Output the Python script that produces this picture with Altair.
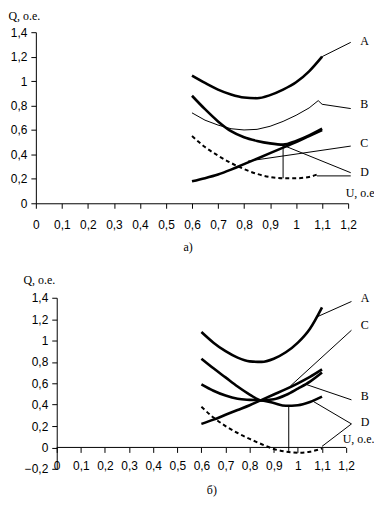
import altair as alt
import pandas as pd

# ---------------- data : panel a) ----------------
U_A = [0.6, 0.65, 0.7, 0.75, 0.8, 0.85, 0.9, 0.95, 1.0, 1.05, 1.1]
A_QA = [1.045, 0.985, 0.93, 0.89, 0.865, 0.86, 0.885, 0.93, 0.99, 1.08, 1.20]
A_QC = [0.18, 0.205, 0.235, 0.275, 0.32, 0.365, 0.41, 0.455, 0.50, 0.55, 0.60]
A_QD = [0.88, 0.77, 0.67, 0.59, 0.54, 0.51, 0.49, 0.48, 0.51, 0.555, 0.61]
U_A_B = [0.6, 0.65, 0.7, 0.75, 0.8, 0.85, 0.9, 0.95, 1.0, 1.05, 1.085, 1.1]
A_QB = [0.74, 0.68, 0.64, 0.61, 0.60, 0.605, 0.63, 0.67, 0.72, 0.78, 0.84, 0.81]
U_A_E = [0.6, 0.65, 0.7, 0.75, 0.8, 0.85, 0.9, 0.95, 1.0, 1.05, 1.08]
A_QE = [0.55, 0.46, 0.39, 0.33, 0.28, 0.24, 0.215, 0.205, 0.205, 0.215, 0.235]
# pointer lines (u, q, u2, q2)
A_PTR_U = [1.1, 1.1, 0.815, 0.944, 1.08, 0.95]
A_PTR_Q = [1.20, 0.81, 0.345, 0.48, 0.224, 0.47]
A_PTR_U2 = [1.21, 1.21, 1.21, 1.21, 1.21, 0.95]
A_PTR_Q2 = [1.317, 0.775, 0.468, 0.25, 0.224, 0.205]
A_LBL = ["A", "B", "C", "D"]
A_LBL_U = [1.247, 1.247, 1.247, 1.247]
A_LBL_Q = [1.328, 0.812, 0.495, 0.258]

# ---------------- data : panel б) ----------------
U_B = [0.6, 0.65, 0.7, 0.75, 0.8, 0.85, 0.9, 0.95, 1.0, 1.05, 1.1]
B_QA = [1.08, 0.98, 0.90, 0.84, 0.805, 0.80, 0.83, 0.89, 0.98, 1.11, 1.31]
B_QB = [0.83, 0.74, 0.655, 0.57, 0.495, 0.44, 0.45, 0.49, 0.55, 0.615, 0.70]
B_QC = [0.22, 0.26, 0.305, 0.35, 0.395, 0.445, 0.495, 0.545, 0.60, 0.66, 0.73]
B_QD = [0.59, 0.53, 0.485, 0.455, 0.445, 0.44, 0.415, 0.39, 0.395, 0.425, 0.475]
B_QE = [0.38, 0.28, 0.20, 0.135, 0.08, 0.03, -0.015, -0.04, -0.05, -0.04, -0.01]
B_PTR_U = [1.078, 0.969, 1.037, 1.064, 1.1, 0.962]
B_PTR_Q = [1.22, 0.575, 0.587, 0.43, 0.01, 0.39]
B_PTR_U2 = [1.222, 1.222, 1.222, 1.222, 1.222, 0.962]
B_PTR_Q2 = [1.365, 1.096, 0.445, 0.22, 0.22, -0.05]
B_LBL = ["A", "C", "B", "D"]
B_LBL_U = [1.261, 1.261, 1.261, 1.261]
B_LBL_Q = [1.397, 1.146, 0.484, 0.236]
# x-axis line of panel б) drawn at Q = 0
B_ZERO_U = [0.0]
B_ZERO_U2 = [1.2]
B_ZERO_Q = [0.0]

X_TICKS = [0, 0.1, 0.2, 0.3, 0.4, 0.5, 0.6, 0.7, 0.8, 0.9, 1.0, 1.1, 1.2]
Y_TICKS_A = [0, 0.2, 0.4, 0.6, 0.8, 1.0, 1.2, 1.4]
Y_TICKS_B = [-0.2, 0, 0.2, 0.4, 0.6, 0.8, 1.0, 1.2, 1.4]

LBL_EXPR = "replace(format(datum.value, '~g'), '.', ',')"
SANS = "Liberation Sans"
SERIF = "Liberation Serif"


def long_df(series):
    rows = []
    for name, (uu, qq) in series.items():
        for a, b in zip(uu, qq):
            rows.append({"curve": name, "u": a, "q": b})
    return pd.DataFrame(rows, columns=["curve", "u", "q"])


def panel(thick, thin, dashed, ptr, lbl, xdom, ydom, yticks, width, height,
          xoffset, yoffset, xdomain_line, xlabpad, utitle, utx, uty, qtx, qty,
          caption, cap_dx, cap_off):
    xaxis = alt.Axis(values=X_TICKS, labelExpr=LBL_EXPR, grid=False, tickSize=5,
                     labelPadding=xlabpad, domain=xdomain_line, domainColor="black",
                     tickColor="black", labelColor="black", labelFont=SANS,
                     labelFontSize=12, labelFlush=False, labelOverlap=False,
                     title=utitle, titleFont=SERIF, titleFontSize=12,
                     titleFontWeight="normal", titleColor="black", titleX=utx,
                     titleY=uty, titleAlign="left", titleBaseline="middle",
                     titleAngle=0, offset=xoffset)
    yaxis = alt.Axis(values=yticks, labelExpr=LBL_EXPR, grid=False, tickSize=5,
                     labelPadding=4, domainColor="black", tickColor="black",
                     labelColor="black", labelFont=SANS, labelFontSize=12,
                     labelFlush=False, labelOverlap=False,
                     title="Q, o.e.", titleFont=SERIF, titleFontSize=12,
                     titleFontWeight="normal", titleColor="black", titleX=qtx,
                     titleY=qty, titleAlign="left", titleBaseline="top",
                     titleAngle=0, offset=yoffset)
    X = alt.X("u:Q", scale=alt.Scale(domain=xdom, nice=False, zero=False), axis=xaxis)
    Y = alt.Y("q:Q", scale=alt.Scale(domain=ydom, nice=False, zero=False), axis=yaxis)

    layers = [alt.Chart(long_df(thick)).mark_line(
        color="black", strokeWidth=2.6, interpolate="monotone").encode(
        x=X, y=Y, detail="curve:N")]
    if thin:
        layers.append(alt.Chart(long_df(thin)).mark_line(
            color="black", strokeWidth=1).encode(
            x=X, y=Y, detail="curve:N"))
    layers.append(alt.Chart(long_df(dashed)).mark_line(
        color="black", strokeWidth=2, strokeDash=[4, 3], interpolate="monotone").encode(
        x=X, y=Y, detail="curve:N"))
    pdf = pd.DataFrame({"u": ptr[0], "q": ptr[1], "u2": ptr[2], "q2": ptr[3]})
    layers.append(alt.Chart(pdf).mark_rule(color="black", strokeWidth=1).encode(
        x=X, y=Y, x2="u2:Q", y2="q2:Q"))
    ldf = pd.DataFrame({"t": lbl[0], "u": lbl[1], "q": lbl[2]})
    layers.append(alt.Chart(ldf).mark_text(
        align="left", baseline="middle", font=SERIF, fontSize=12,
        color="black").encode(x=X, y=Y, text="t:N"))
    return layers, dict(
        width=width, height=height,
        title=alt.TitleParams(caption, orient="bottom", anchor="middle", frame="group",
                              font=SERIF, fontSize=12, fontWeight="normal",
                              color="black", dx=cap_dx, offset=cap_off))


top_layers, top_props = panel(
    {"A": (U_A, A_QA), "C": (U_A, A_QC), "D": (U_A, A_QD)},
    {"B": (U_A_B, A_QB)},
    {"E": (U_A_E, A_QE)},
    (A_PTR_U, A_PTR_Q, A_PTR_U2, A_PTR_Q2),
    (A_LBL, A_LBL_U, A_LBL_Q),
    [0, 1.2], [0, 1.4], Y_TICKS_A, 314, 172, 0, 0, True, 11,
    "U, o.e", 311, -10.5, -28, -22, "а)", -4, 12)
top = alt.layer(*top_layers).properties(**top_props)

# panel б): plot area starts 21 px left of U = 0 (its Q axis sits at U = 0)
B_XDOM = [-0.0863, 1.2]
bot_layers, bot_props = panel(
    {"A": (U_B, B_QA), "B": (U_B, B_QB), "C": (U_B, B_QC), "D": (U_B, B_QD)},
    {},
    {"E": (U_B, B_QE)},
    (B_PTR_U, B_PTR_Q, B_PTR_U2, B_PTR_Q2),
    (B_LBL, B_LBL_U, B_LBL_Q),
    B_XDOM, [-0.2, 1.4], Y_TICKS_B, 312, 172, -21.5, -21, False, 8,
    "U, o.e.", 308, -8.7, -34, -23.5, "б)", 21, 10)
zdf = pd.DataFrame({"u": B_ZERO_U, "u2": B_ZERO_U2, "q": B_ZERO_Q})
Xb = bot_layers[0].encoding.x
Yb = bot_layers[0].encoding.y
bot_layers.insert(0, alt.Chart(zdf).mark_rule(color="black", strokeWidth=1).encode(
    x=Xb, x2="u2:Q", y=Yb))
bottom = alt.layer(*bot_layers).properties(**bot_props)

chart = alt.vconcat(top, bottom, spacing=20).properties(padding=0).configure_view(
    stroke=None)

chart.save("out.html", embed_options={"renderer": "svg", "actions": False})
